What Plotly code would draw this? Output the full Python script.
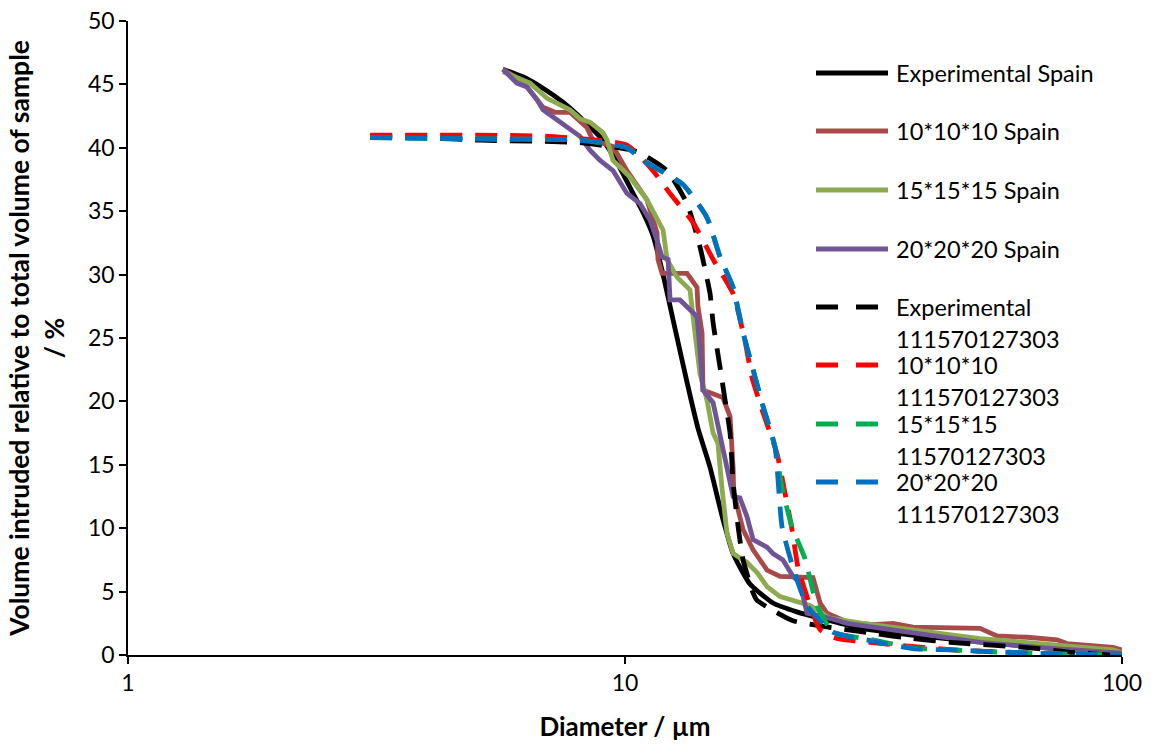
import plotly.graph_objects as go

# ---------------- data (diameter in µm, volume %) ----------------
exp_spain_d = [5.68, 6.23, 6.84, 7.50, 8.23, 9.03, 9.68, 10.38, 10.87, 11.38, 11.93, 12.50, 13.33,
               14.02, 14.83, 15.67, 16.50, 17.84, 19.85, 22.18, 24.69, 30.0, 39.2, 49.9, 68.4, 100]
exp_spain_v = [46.2, 45.6, 44.7, 43.6, 42.2, 40.6, 38.7, 36.4, 34.9, 33.1, 30.0, 26.4, 21.5,
               17.9, 14.8, 11.0, 8.0, 5.6, 4.1, 3.4, 2.9, 2.1, 1.5, 1.1, 0.6, 0.1]

s10_d = [5.68, 6.23, 6.84, 7.23, 7.75, 8.38, 8.62, 9.46, 10.09, 11.07, 11.60, 11.65, 11.87, 13.33,
         13.96, 14.02, 14.29, 14.35, 15.74, 16.27, 16.50, 16.55, 17.28, 18.10, 19.31, 20.51, 23.89,
         24.69, 25.49, 27.98, 31.55, 34.61, 37.97, 51.8, 56.0, 64.4, 74.0, 77.5, 95.9, 100]
s10_v = [46.2, 45.2, 43.2, 42.8, 42.8, 41.6, 40.6, 40.1, 38.2, 35.9, 33.3, 31.2, 30.1, 30.1,
         29.0, 27.5, 25.4, 20.9, 20.3, 18.8, 14.8, 12.8, 9.9, 8.3, 6.7, 6.2, 6.1,
         4.1, 3.3, 2.6, 2.4, 2.5, 2.2, 2.1, 1.5, 1.4, 1.2, 0.9, 0.6, 0.4]

s15_d = [5.68, 6.44, 6.97, 7.75, 8.12, 8.51, 9.03, 9.20, 9.46, 10.23, 11.07, 11.60, 11.93, 12.15,
         12.72, 13.51, 13.71, 13.83, 14.15, 14.62, 15.04, 15.38, 15.67, 16.04, 16.50, 17.60, 18.44,
         19.31, 20.51, 22.49, 23.57, 25.85, 30.1, 51.8, 95.9, 100]
s15_v = [46.0, 45.1, 43.9, 43.0, 42.3, 42.0, 41.2, 40.6, 39.0, 37.7, 35.9, 34.5, 33.5, 31.2,
         29.8, 28.8, 27.0, 25.4, 22.2, 20.1, 17.5, 16.7, 13.2, 9.6, 8.0, 7.3, 6.5,
         5.4, 4.6, 4.1, 3.9, 2.9, 2.5, 1.3, 0.4, 0.2]

s20_d = [5.68, 6.06, 6.35, 6.65, 6.84, 7.30, 7.68, 8.12, 8.51, 8.91, 9.46, 10.09, 10.72, 11.23,
         11.60, 11.87, 12.21, 12.32, 12.90, 13.96, 14.15, 14.35, 15.04, 15.53, 16.04, 16.50, 17.03,
         17.60, 18.10, 19.31, 19.85, 20.79, 21.78, 22.49, 23.24, 25.85, 27.98, 37.97, 51.8, 70.7,
         95.9, 100]
s20_v = [46.2, 45.1, 44.8, 43.8, 43.0, 42.2, 41.6, 40.9, 39.8, 39.0, 38.2, 36.4, 35.6, 34.3,
         32.7, 31.4, 31.2, 28.0, 28.0, 26.7, 24.1, 20.9, 19.9, 17.2, 14.6, 12.5, 12.4,
         10.9, 9.1, 8.5, 8.0, 7.5, 6.2, 5.7, 3.3, 2.9, 2.5, 1.8, 1.0, 0.55,
         0.25, 0.15]

exp_ref_d = [3.07, 3.87, 5.11, 8.12, 10.57, 12.15, 13.33, 14.15, 14.83, 15.04, 15.53, 15.90, 16.27,
             16.50, 16.89, 17.28, 18.10, 18.44, 19.31, 21.78, 31.55, 37.97, 45.1, 66.2, 79.7, 95.9, 100]
exp_ref_v = [40.9, 40.8, 40.6, 40.4, 39.7, 38.2, 35.6, 32.2, 28.5, 26.2, 22.7, 20.1, 17.5,
             13.6, 10.1, 7.5, 4.9, 4.3, 3.8, 2.7, 1.7, 1.3, 1.0, 0.55, 0.2, 0.0, 0.0]

r10_d = [3.07, 7.06, 10.09, 11.38, 12.32, 13.71, 15.04, 16.50, 17.43, 18.01, 18.96, 20.22, 20.98,
         21.68, 22.29, 23.57, 24.69, 26.71, 31.1, 45.7, 66.2, 79.7, 100]
r10_v = [41.0, 40.9, 40.2, 38.2, 36.4, 34.1, 31.2, 28.5, 24.8, 21.9, 19.1, 15.9, 12.8,
         9.9, 6.9, 3.9, 2.0, 1.3, 1.0, 0.4, 0.15, 0.0, 0.0]

r15_d = [3.07, 5.11, 8.12, 10.09, 10.87, 13.08, 14.62, 15.53, 16.50, 17.28, 18.10, 18.96, 20.04,
         20.70, 21.68, 23.02, 24.34, 26.21, 31.55, 37.97, 45.7, 55.0, 66.2, 79.7, 100]
r15_v = [40.8, 40.7, 40.6, 40.0, 39.0, 37.1, 34.5, 31.4, 29.0, 25.4, 22.5, 19.6, 16.4,
         13.2, 10.1, 7.6, 3.9, 1.8, 1.2, 0.55, 0.4, 0.25, 0.15, 0.05, 0.0]

r20_d = [3.07, 5.11, 8.12, 10.09, 10.87, 13.08, 14.62, 15.53, 16.50, 17.28, 18.10, 18.96, 20.04,
         20.70, 21.78, 23.24, 26.21, 31.55, 37.97, 45.7, 55.0, 66.2, 79.7, 100]
r20_v = [40.8, 40.7, 40.6, 40.0, 39.0, 37.1, 34.5, 31.4, 29.0, 25.4, 22.5, 19.6, 16.4,
         10.1, 6.9, 3.9, 1.8, 1.1, 0.5, 0.4, 0.25, 0.15, 0.05, 0.0]

series_names = ["Experimental Spain", "10*10*10 Spain", "15*15*15 Spain", "20*20*20 Spain",
                "Experimental<br>111570127303", "10*10*10<br>111570127303",
                "15*15*15<br>11570127303", "20*20*20<br>111570127303"]
series_colors = ["#000000", "#A94A4A", "#8CAA4E", "#6F5596",
                 "#000000", "#FF0000", "#00B050", "#0070C0"]
series_dash = ["solid", "solid", "solid", "solid", "dashed", "dashed", "dashed", "dashed"]
series_smooth = [True, False, False, False, True, True, True, True]
series_data = [(exp_spain_d, exp_spain_v), (s10_d, s10_v), (s15_d, s15_v), (s20_d, s20_v),
               (exp_ref_d, exp_ref_v), (r10_d, r10_v), (r15_d, r15_v), (r20_d, r20_v)]

x_tick_vals = [1, 10, 100]
x_tick_text = ["1", "10", "100"]

# ---------------- figure ----------------
W, H = 1153, 745
ML, MR, MT, MB = 128, 31, 21, 90
PW, PH = W - ML - MR, H - MT - MB
FONT = "Lato, 'Open Sans', sans-serif"
LW = 4.8
DASH = "22px,13px"

fig = go.Figure()
for name, col, ds, sm, (xd, yd) in zip(series_names, series_colors, series_dash,
                                       series_smooth, series_data):
    line = dict(color=col, width=LW, dash=(None if ds == "solid" else DASH))
    if sm:
        line.update(shape="spline", smoothing=0.5)
    fig.add_trace(go.Scatter(
        x=xd, y=yd, mode="lines", name=name.replace("<br>", " "),
        line=line, showlegend=False, hoverinfo="skip"))

def px_x(px):
    return (px - ML) / PW

def px_y(py):
    return (H - MB - py) / PH

# manual legend (Excel-like layout)
row_y = [73, 131, 190, 249, 307, 365, 424, 482]
shapes = []
annotations = []
for name, col, ds, ry in zip(series_names, series_colors, series_dash, row_y):
    x1 = 888 if ds == "solid" else 878
    shapes.append(dict(type="line", xref="paper", yref="paper",
                       x0=px_x(816), x1=px_x(x1), y0=px_y(ry), y1=px_y(ry),
                       line=dict(color=col, width=LW,
                                 dash=("solid" if ds == "solid" else "22px,18px"))))
    for k, part in enumerate(name.split("<br>")):
        annotations.append(dict(xref="paper", yref="paper", x=px_x(894), y=px_y(ry + 32 * k),
                                xanchor="left", yanchor="middle", text=part, showarrow=False,
                                font=dict(family=FONT, size=23.5, color="#000")))

fig.update_layout(
    width=W, height=H,
    margin=dict(l=ML, r=MR, t=MT, b=MB, autoexpand=False),
    paper_bgcolor="white", plot_bgcolor="white",
    font=dict(family=FONT, size=23, color="#000"),
    shapes=shapes, annotations=annotations,
    xaxis=dict(type="log", range=[0, 2], tickvals=x_tick_vals, ticktext=x_tick_text,
               automargin=False,
               showgrid=False, zeroline=False, showline=True, linecolor="#000", linewidth=1.5,
               ticks="outside", ticklen=7, tickwidth=1.5, tickcolor="#000",
               tickfont=dict(family=FONT, size=23, color="#000"),
               title=dict(text="<b>Diameter / µm</b>", standoff=22,
                          font=dict(family=FONT, size=26, color="#000"))),
    yaxis=dict(range=[0, 50], dtick=5, tick0=0, automargin=False,
               showgrid=False, zeroline=False, showline=True, linecolor="#000", linewidth=1.5,
               ticks="outside", ticklen=7, tickwidth=1.5, tickcolor="#000",
               tickfont=dict(family=FONT, size=23, color="#000"),
               title=dict(text="<b>Volume intruded relative to total volume of sample<br>/ %</b>",
                          standoff=16, font=dict(family=FONT, size=26.5, color="#000"))),
)

fig.write_html("out.html")
